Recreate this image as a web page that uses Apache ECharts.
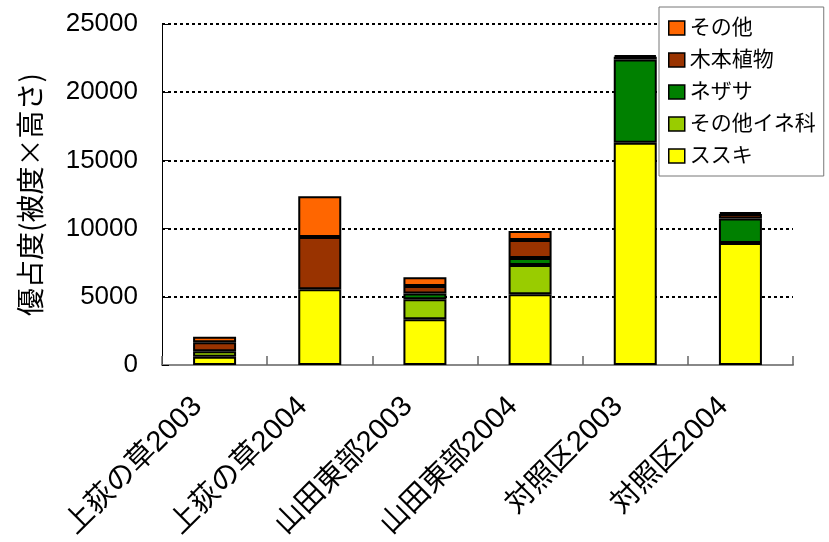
<!DOCTYPE html>
<html>
<head>
<meta charset="utf-8">
<script src="https://cdn.jsdelivr.net/npm/echarts@6/dist/echarts.min.js"></script>
<style>
  html, body { margin: 0; padding: 0; background: #fff; }
  #chart { width: 829px; height: 542px; }
</style>
</head>
<body>
<div id="chart"></div>
<script>
// Survey sites / years
const categories = ['上荻の草2003', '上荻の草2004', '山田東部2003', '山田東部2004', '対照区2003', '対照区2004'];

// Dominance (cover × height) per vegetation group, bottom to top of each stack
// (null = group absent at that site)
const susuki      = [600, 5550, 3360, 5190, 16300, 8950];
const otherGrass  = [400, null, 1460, 2140, null, null];
const nezasa      = [null, null, 420, 510, 6100, 1800];
const woody       = [660, 3830, 560, 1320, 200, 330];
const others      = [410, 3000, 630, 660, 120, 130];

const yTicks = { min: 0, max: 25000, interval: 5000 };

const FONT = "'Liberation Sans', 'Noto Sans CJK JP', sans-serif";

const seriesDefs = [
  { name: 'ススキ', data: susuki, color: '#FFFF00' },
  { name: 'その他イネ科', data: otherGrass, color: '#99CC00' },
  { name: 'ネザサ', data: nezasa, color: '#008000' },
  { name: '木本植物', data: woody, color: '#993300' },
  { name: 'その他', data: others, color: '#FF6600' }
];

const chart = echarts.init(document.getElementById('chart'), null, { renderer: 'canvas' });

chart.setOption({
  animation: false,
  backgroundColor: '#ffffff',
  grid: { left: 162, right: 36, top: 24, bottom: 176, containLabel: false },
  legend: {
    data: ['その他', '木本植物', 'ネザサ', 'その他イネ科', 'ススキ'],
    orient: 'vertical',
    left: 659,
    top: 7,
    width: 164,
    padding: [10, 8, 9, 9],
    itemGap: 10,
    itemWidth: 16,
    itemHeight: 14,
    icon: 'rect',
    backgroundColor: '#ffffff',
    borderColor: '#777777',
    borderWidth: 1,
    textStyle: { fontFamily: FONT, fontSize: 21, color: '#000', lineHeight: 22, padding: [0, 0, 0, 0] },
    itemStyle: { borderColor: '#000', borderWidth: 1.5 }
  },
  xAxis: {
    type: 'category',
    data: categories,
    axisLine: { show: true, lineStyle: { color: '#888888', width: 2 } },
    axisTick: { show: true, inside: true, length: 9, alignWithLabel: false, lineStyle: { color: '#666666', width: 1.5 } },
    axisLabel: { rotate: 45, margin: 20, interval: 0, padding: [0, 24, 0, 0], fontFamily: FONT, fontSize: 29, color: '#000' }
  },
  yAxis: {
    type: 'value',
    min: yTicks.min,
    max: yTicks.max,
    interval: yTicks.interval,
    name: '優占度(被度×高さ)',
    nameLocation: 'middle',
    nameGap: 118,
    nameRotate: 90,
    nameTextStyle: { fontFamily: "'Noto Sans CJK JP', sans-serif", fontSize: 28, color: '#000' },
    axisLine: { show: true, lineStyle: { color: '#000', width: 1 } },
    axisTick: { show: true, inside: true, length: 7, lineStyle: { color: '#000', width: 1 } },
    axisLabel: { margin: 24, fontFamily: FONT, fontSize: 26, color: '#000', formatter: v => String(v) },
    splitLine: { show: true, lineStyle: { color: '#000', width: 2, type: [3, 3] } }
  },
  series: seriesDefs.map(s => ({
    name: s.name,
    type: 'bar',
    stack: 'total',
    data: s.data,
    barWidth: 43,
    itemStyle: { color: s.color, borderColor: '#000', borderWidth: 2 },
    emphasis: { disabled: true }
  }))
});
</script>
</body>
</html>
